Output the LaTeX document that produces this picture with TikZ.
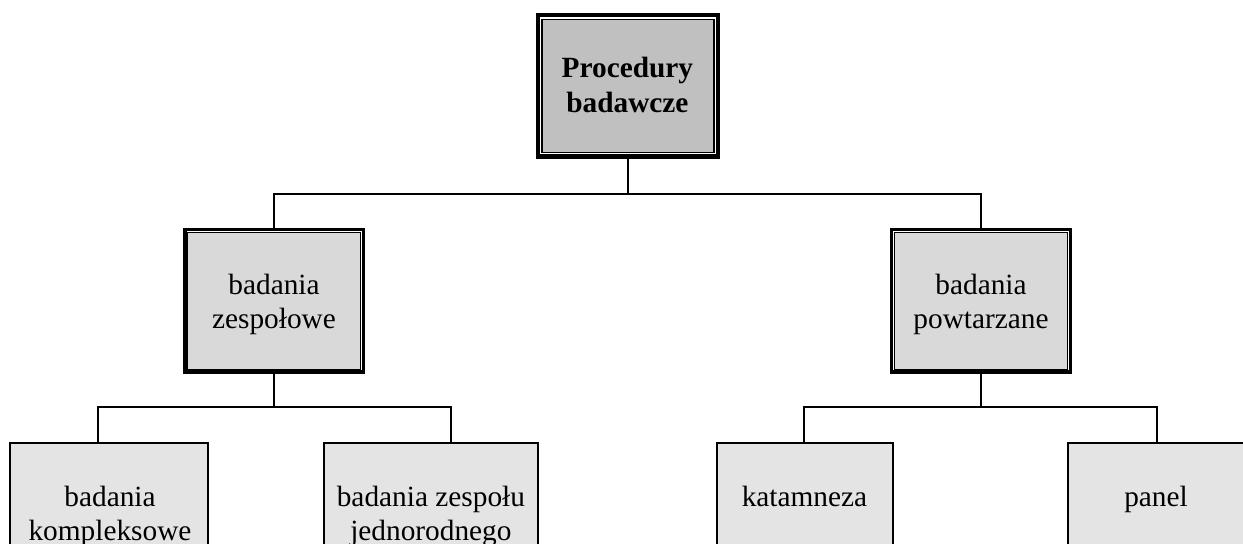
\documentclass[tikz,border=0pt]{standalone}
\usepackage{fontspec}
\setmainfont{Liberation Serif}
\usetikzlibrary{calc,backgrounds}
\definecolor{topgray}{HTML}{C0C0C0}
\definecolor{midgray}{HTML}{D9D9D9}
\definecolor{lowgray}{HTML}{E4E4E4}
\begin{document}
\begin{tikzpicture}[x=0.75pt,y=-0.75pt,
  boxbase/.style={rectangle, inner sep=0pt, outer sep=0pt},
  % root: thick outer frame, white gap, thin inner frame
  rootbox/.style={boxbase, minimum width=129pt, minimum height=99.75pt,
    fill=topgray, draw=black, line width=1pt,
    preaction={draw=black, line width=9.4pt},
    preaction={draw=white, line width=2.9pt}},
  % second level: double frame
  midbox/.style={boxbase, minimum width=129.75pt, minimum height=102.75pt,
    fill=midgray, draw=black, line width=1.1pt,
    preaction={draw=black, line width=6.7pt},
    preaction={draw=white, line width=2.9pt}},
  % leaves: plain frame
  leafbox/.style={boxbase, minimum height=106.5pt,
    fill=lowgray, draw=black, line width=1.5pt},
  % labels are anchored at the baseline of their last line
  lbl/.style={align=center, inner sep=0pt, anchor=base,
    font=\fontsize{22}{25.5}\selectfont},
  conn/.style={draw=black, line width=1.5pt}]
\useasboundingbox (0,0) rectangle (1243,543);

% boxes
\node[rootbox] (pb) at (628,85.8) {};
\node[midbox] (bz) at (274,301) {};
\node[midbox] (bp) at (981,301) {};
\node[leafbox, minimum width=148.5pt] (bk) at (109.3,514) {};
\node[leafbox, minimum width=160.7pt] (bj) at (430.9,514) {};
\node[leafbox, minimum width=132.2pt] (bkat) at (804.9,514) {};
\node[leafbox, minimum width=132.2pt] (bpan) at (1156.2,514) {};

% heavier left and bottom edges of the second-level frames
\fill ($(bz.north west)+(-4.45,-2.5)$) rectangle ($(bz.south west)+(-0.5,4.45)$);
\foreach \n in {bz,bp}
  \fill ($(\n.south west)+(-4.45,0.5)$) rectangle ($(\n.south east)+(4.45,4.45)$);

% labels
\node[lbl, font=\fontsize{22}{26.25}\selectfont\bfseries] (tpb) at (627.4,112) {Procedury\\badawcze};
\node[lbl] (tbz) at (274,328.5) {badania\\zespołowe};
\node[lbl] (tbp) at (981,328.5) {badania\\powtarzane};
\node[lbl] (tbk) at (110,540) {badania\\kompleksowe};
\node[lbl] (tbj) at (430.9,540) {badania zespołu\\jednorodnego};
\node[lbl] (tbkat) at (804.5,506) {katamneza};
\node[lbl] (tbpan) at (1156,506) {panel};

% junction points of the tree lines
\coordinate (j0) at (628,194);
\coordinate (j1) at (274,407);
\coordinate (j2) at (981,407);
\coordinate (c1) at (97.7,407);
\coordinate (c2) at (451,407);
\coordinate (c3) at (804,407);
\coordinate (c4) at (1156.7,407);

\begin{scope}[on background layer]
  \draw[conn] (pb.south) -- (j0);
  \draw[conn] (bz.north) |- (j0) -| (bp.north);
  \draw[conn] (bz.south) -- (j1);
  \draw[conn] (c1 |- bk.north) -- (c1) -- (c2) -- (c2 |- bj.north);
  \draw[conn] (bp.south) -- (j2);
  \draw[conn] (c3 |- bkat.north) -- (c3) -- (c4) -- (c4 |- bpan.north);
\end{scope}
\end{tikzpicture}
\end{document}
